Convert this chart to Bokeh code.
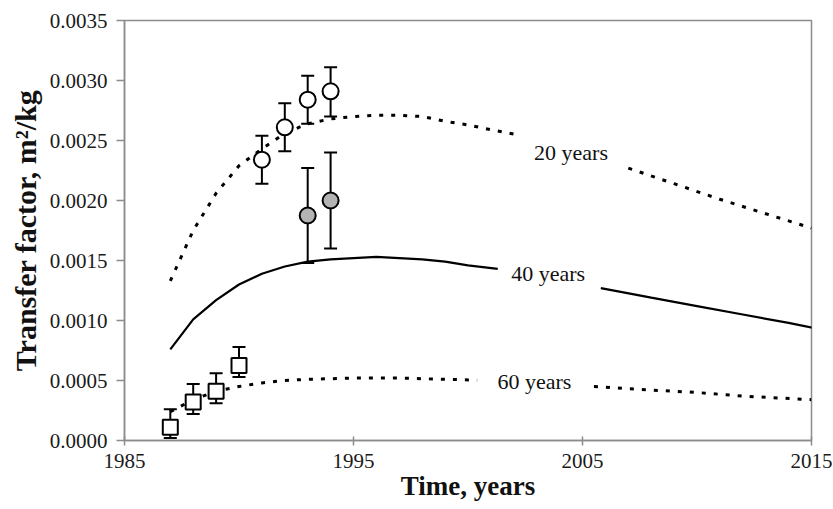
from bokeh.plotting import figure
from bokeh.models import (Range1d, Whisker, TeeHead, ColumnDataSource,
                          FixedTicker, PrintfTickFormatter)
from bokeh.embed import file_html
from bokeh.resources import INLINE
from bokeh.core.properties import value

# ---- measured points (with error bars) ----
obs20_years = [1991, 1992, 1993, 1994]
obs20_tf = [0.00234, 0.00261, 0.00284, 0.00291]
obs20_lo = [0.00214, 0.00241, 0.00264, 0.00270]
obs20_hi = [0.00254, 0.00281, 0.00304, 0.00311]

obs40_years = [1993, 1994]
obs40_tf = [0.001875, 0.00200]
obs40_lo = [0.00148, 0.00160]
obs40_hi = [0.00227, 0.00240]

obs60_years = [1987, 1988, 1989, 1990]
obs60_tf = [0.00011, 0.00032, 0.00041, 0.000625]
obs60_lo = [0.00002, 0.00022, 0.00031, 0.00053]
obs60_hi = [0.00026, 0.00047, 0.00056, 0.00078]

# ---- model curves (two pieces each, gap for the label) ----
m20_x_a = [1987, 1988, 1989, 1990, 1991, 1992, 1993, 1994, 1995, 1996, 1997, 1998, 1999, 2000, 2001, 2002.1]
m20_y_a = [0.00133, 0.00175, 0.00206, 0.00229, 0.00243, 0.00256, 0.00264, 0.00268, 0.00270, 0.00271,
           0.00271, 0.00270, 0.00266, 0.00263, 0.00259, 0.00255]
m20_x_b = [2007.0, 2009, 2011, 2013, 2015]
m20_y_b = [0.00227, 0.00214, 0.00201, 0.00189, 0.00177]

m40_x_a = [1987, 1988, 1989, 1990, 1991, 1992, 1993, 1994, 1995, 1996, 1997, 1998, 1999, 2000, 2001.3]
m40_y_a = [0.00076, 0.00101, 0.00117, 0.00130, 0.00139, 0.00145, 0.00149, 0.00151, 0.00152, 0.00153,
           0.00152, 0.00151, 0.00149, 0.00146, 0.00143]
m40_x_b = [2005.8, 2008, 2010, 2012, 2014, 2015.3]
m40_y_b = [0.00127, 0.00119, 0.00112, 0.00105, 0.00098, 0.00093]

m60_x_a = [1987, 1988, 1989, 1990, 1991, 1992, 1993, 1994, 1995, 1996, 1997, 1998, 1999, 2000.4]
m60_y_a = [0.00024, 0.00034, 0.00041, 0.00045, 0.00048, 0.00050, 0.00051, 0.000515, 0.00052, 0.00052,
           0.00052, 0.000515, 0.00051, 0.000503]
m60_x_b = [2005.5, 2008, 2010, 2012, 2015]
m60_y_b = [0.00045, 0.00042, 0.00040, 0.00037, 0.00034]

curve_labels = ["20 years", "40 years", "60 years"]
curve_label_x = [2004.5, 2003.5, 2002.9]
curve_label_y = [0.00240, 0.00139, 0.00049]

x_ticks = [1985, 1995, 2005, 2015]
y_ticks = [0.0, 0.0005, 0.0010, 0.0015, 0.0020, 0.0025, 0.0030, 0.0035]

SERIF = "Liberation Serif"
FRAME = "#8c8c8c"

p = figure(width=833, height=509, output_backend="svg", toolbar_location=None,
           x_range=Range1d(1985, 2015), y_range=Range1d(0, 0.0035),
           min_border_left=124, min_border_right=22, min_border_top=20, min_border_bottom=69)
p.grid.visible = False
p.outline_line_color = FRAME
p.outline_line_width = 1.5

# axes
p.xaxis.ticker = FixedTicker(ticks=x_ticks)
p.xaxis.formatter = PrintfTickFormatter(format="%d")
p.yaxis.ticker = FixedTicker(ticks=y_ticks)
p.yaxis.formatter = PrintfTickFormatter(format="%.4f")
p.axis.axis_line_color = FRAME
p.axis.axis_line_width = 1.5
p.axis.major_tick_line_color = FRAME
p.axis.major_tick_line_width = 1.5
p.axis.minor_tick_line_color = None
p.axis.major_label_text_font = SERIF
p.axis.major_label_text_font_size = "21px"
p.axis.major_label_text_color = "#1a1a1a"
p.axis.axis_label_text_font = SERIF
p.axis.axis_label_text_font_style = "bold"
p.axis.axis_label_text_color = "#111111"

p.xaxis.major_tick_in = 4
p.xaxis.major_tick_out = 5
p.xaxis.major_label_standoff = 8
p.xaxis.axis_label = "Time, years"
p.xaxis.axis_label_text_font_size = "27px"
p.xaxis.axis_label_standoff = 0

p.yaxis.major_tick_in = 0
p.yaxis.major_tick_out = 8
p.yaxis.major_label_standoff = 9
p.yaxis.axis_label = "Transfer factor, m\u00b2/kg"
p.yaxis.axis_label_text_font_size = "30px"
p.yaxis.axis_label_standoff = 5

# model curves
dot = dict(line_color="black", line_width=3, line_dash="4 8")
p.line(m20_x_a, m20_y_a, **dot)
p.line(m20_x_b, m20_y_b, **dot)
p.line(m40_x_a, m40_y_a, line_color="black", line_width=2.2)
p.line(m40_x_b, m40_y_b, line_color="black", line_width=2.2)
p.line(m60_x_a, m60_y_a, **dot)
p.line(m60_x_b, m60_y_b, **dot)

# error bars + markers
def add_series(xs, ys, lo, hi, marker, fill, size):
    src = ColumnDataSource(dict(x=xs, y=ys, lo=lo, hi=hi))
    w = Whisker(source=src, base="x", upper="hi", lower="lo",
                line_color="black", line_width=2, level="underlay",
                upper_head=TeeHead(size=13, line_width=2, line_color="black"),
                lower_head=TeeHead(size=13, line_width=2, line_color="black"))
    p.add_layout(w)
    p.scatter("x", "y", source=src, marker=marker, size=size,
              fill_color=fill, line_color="black", line_width=2)

add_series(obs20_years, obs20_tf, obs20_lo, obs20_hi, "circle", "white", 16)
add_series(obs40_years, obs40_tf, obs40_lo, obs40_hi, "circle", "#b3b3b3", 16)
add_series(obs60_years, obs60_tf, obs60_lo, obs60_hi, "square", "white", 15)

# curve labels
p.text(x=curve_label_x, y=curve_label_y, text=curve_labels,
       text_font=value(SERIF), text_font_size="22px", text_color="#111111",
       text_align="center", text_baseline="middle")

open("out.html", "w").write(file_html(p, INLINE))
